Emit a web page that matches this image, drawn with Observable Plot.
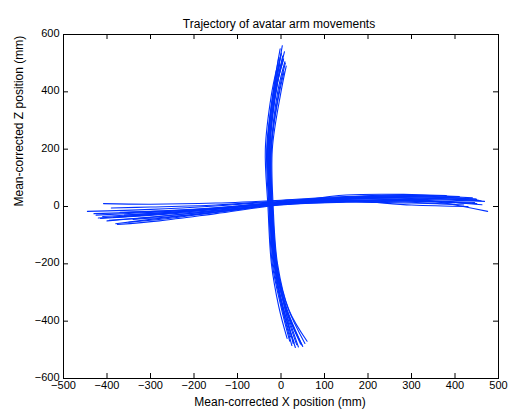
<!DOCTYPE html>
<html>
<head>
<meta charset="utf-8">
<script src="https://cdn.jsdelivr.net/npm/d3@7"></script>
<script src="https://cdn.jsdelivr.net/npm/@observablehq/plot@0.6"></script>
<style>
  html, body { margin: 0; padding: 0; background: #fff; }
</style>
</head>
<body>
<div id="chart"></div>
<script>
const titleText = "Trajectory of avatar arm movements";
const xLabel = "Mean-corrected X position (mm)";
const yLabel = "Mean-corrected Z position (mm)";
const xTicks = [-500, -400, -300, -200, -100, 0, 100, 200, 300, 400, 500];
const yTicks = [-600, -400, -200, 0, 200, 400, 600];

// Horizontal (X-direction) movement traces
const hTraceX = [
  [-445, -300, -150, 0, 150, 300, 475],
  [-420, -300, -150, 0, 150, 300, 450],
  [-408, -300, -150, 0, 150, 300, 440],
  [-380, -300, -150, 0, 150, 300, 420],
  [-400, -280, -150, 0, 150, 300, 460],
  [-376, -280, -150, 0, 150, 300, 400],
  [-430, -300, -150, 0, 150, 300, 450],
  [-360, -250, -120, 0, 150, 300, 380],
  [-340, -250, -100, 0, 150, 300, 430],
  [-390, -300, -150, 0, 150, 300, 410],
  [-410, -300, -150, 0, 150, 300, 445],
  [-350, -250, -120, 0, 150, 300, 468],
  [-425, -320, -180, -20, 120, 280, 455],
  [-395, -290, -160, -10, 140, 310, 435],
  [-370, -270, -130, 10, 160, 290, 425],
  [-415, -310, -170, -30, 130, 320, 462],
  [-385, -260, -140, 20, 170, 330, 448]
];
const hTraceY = [
  [-17, -10, 2, 18, 30, 28, -17],
  [-40, -28, -10, 12, 22, 20, 10],
  [10, 8, 12, 22, 35, 40, 30],
  [-60, -45, -20, 8, 18, 15, 5],
  [-50, -35, -15, 10, 25, 30, 20],
  [-63, -50, -25, 5, 15, 12, 8],
  [-25, -18, -5, 15, 28, 35, 25],
  [-30, -20, -5, 12, 40, 42, 38],
  [-45, -35, -10, 10, 20, 5, 0],
  [-5, -2, 5, 20, 32, 38, 35],
  [-35, -25, -8, 14, 26, 22, 14],
  [-55, -40, -15, 8, 18, 25, 18],
  [-30, -22, -10, 10, 24, 30, 22],
  [-48, -36, -18, 6, 20, 18, 12],
  [-20, -15, -2, 16, 30, 34, 28],
  [-42, -32, -16, 4, 16, 20, 6],
  [-38, -24, -6, 18, 34, 36, 26]
];

// Vertical (Z-direction) movement traces
const vTraceX = [
  [3, -12, -28, -25, -15, 5, 33],
  [8, -8, -25, -22, -12, 10, 45],
  [-5, -18, -33, -28, -20, 0, 20],
  [10, -5, -22, -20, -10, 15, 55],
  [0, -15, -30, -26, -18, 2, 25],
  [-10, -22, -36, -30, -22, -5, 14],
  [5, -10, -26, -23, -14, 8, 40],
  [12, 0, -20, -18, -8, 18, 60],
  [-2, -14, -30, -27, -16, 4, 30],
  [7, -6, -24, -21, -11, 12, 50],
  [4, -11, -27, -24, -13, 7, 36],
  [9, -7, -23, -22, -12, 11, 42],
  [-3, -16, -31, -26, -17, 1, 22],
  [6, -9, -25, -20, -9, 14, 48],
  [1, -13, -29, -25, -15, 6, 28]
];
const vTraceY = [
  [561, 420, 200, 0, -200, -350, -492],
  [540, 430, 210, 0, -200, -350, -480],
  [520, 400, 200, 0, -200, -350, -470],
  [500, 400, 200, 0, -200, -350, -478],
  [530, 410, 200, 0, -200, -350, -485],
  [480, 390, 200, 0, -200, -350, -460],
  [510, 420, 220, 0, -200, -340, -490],
  [490, 400, 200, 0, -200, -360, -470],
  [550, 440, 230, 0, -200, -350, -475],
  [470, 380, 190, 0, -200, -350, -488],
  [525, 415, 205, 10, -190, -345, -482],
  [505, 405, 195, 15, -210, -355, -466],
  [495, 395, 215, 20, -180, -340, -455],
  [515, 425, 225, 5, -205, -365, -483],
  [535, 435, 215, 12, -195, -335, -478]
];

const rows = [];
hTraceX.forEach((xs, i) => xs.forEach((x, j) => rows.push({trace: "h" + i, x, y: hTraceY[i][j]})));
vTraceX.forEach((xs, i) => xs.forEach((x, j) => rows.push({trace: "v" + i, x, y: vTraceY[i][j]})));

const W = 508, H = 412, mL = 63, mR = 10, mT = 34, mB = 34;
const innerW = W - mL - mR, innerH = H - mT - mB;
const tick = 5;

const chart = Plot.plot({
  width: W,
  height: H,
  marginLeft: mL,
  marginRight: mR,
  marginTop: mT,
  marginBottom: mB,
  style: {fontFamily: "'Liberation Sans', Arial, sans-serif", fontSize: "11px", color: "#000", background: "#fff"},
  x: {domain: [-500, 500]},
  y: {domain: [-600, 600]},
  marks: [
    Plot.line(rows, {x: "x", y: "y", z: "trace", stroke: "#0030ff", strokeWidth: 1.1, curve: "catmull-rom"}),
    Plot.frame({stroke: "#000"}),
    Plot.ruleX(xTicks, {x: d => d, insetTop: innerH - tick, stroke: "#000"}),
    Plot.ruleX(xTicks, {x: d => d, insetBottom: innerH - tick, stroke: "#000"}),
    Plot.ruleY(yTicks, {y: d => d, insetRight: innerW - tick, stroke: "#000"}),
    Plot.ruleY(yTicks, {y: d => d, insetLeft: innerW - tick, stroke: "#000"}),
    Plot.axisX(xTicks, {tickSize: 0, tickPadding: 3, label: null, fontSize: 11, fill: "#000"}),
    Plot.axisY(yTicks, {tickSize: 0, tickPadding: 4, label: null, fontSize: 11, fill: "#000", dy: -1}),
    Plot.text([titleText], {frameAnchor: "top", dy: -15, dx: -2, fontSize: 12, fill: "#000"}),
    Plot.text([xLabel], {frameAnchor: "bottom", dy: 27, dx: -1, fontSize: 12, fill: "#000"}),
    Plot.text([yLabel], {frameAnchor: "left", rotate: -90, dx: -44, fontSize: 12, fill: "#000"})
  ]
});
document.getElementById("chart").appendChild(chart);
</script>
</body>
</html>
